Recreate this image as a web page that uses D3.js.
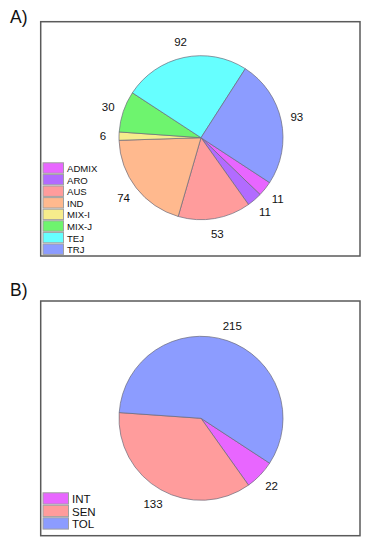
<!DOCTYPE html>
<html><head><meta charset="utf-8">
<script src="https://cdn.jsdelivr.net/npm/d3@7"></script>
<style>body{margin:0;background:#fff;} svg{display:block;font-family:Arial,"Liberation Sans",sans-serif;}</style>
</head><body>
<svg id="c" width="370" height="550"></svg>
<script>
// Panel A data
const catsA = ["ADMIX","ARO","AUS","IND","MIX-I","MIX-J","TEJ","TRJ"];
const valsA = [11,11,53,74,6,30,92,93];
const colorsA = ["#e866ff","#b26bff","#ff9c9c","#ffb98e","#f6ec8c","#6ef46e","#66ffff","#8c9cff"];
// Panel B data
const catsB = ["INT","SEN","TOL"];
const valsB = [22,133,215];
const colorsB = ["#e866ff","#ff9c9c","#8c9cff"];

const svg = d3.select("#c");
const startDeg = 123.2;

function panel(opts){
  const g = svg.append("g");
  g.append("text").attr("x",10).attr("y",opts.labelY).attr("font-size",17.5).attr("fill","#111").text(opts.label);
  g.append("rect").attr("x",opts.box[0]).attr("y",opts.box[1]).attr("width",opts.box[2]-opts.box[0]).attr("height",opts.box[3]-opts.box[1])
    .attr("fill","#fff").attr("stroke","#5a5a5a").attr("stroke-width",1.5);
  const r = 82;
  const pie = d3.pie().sort(null).value(d=>d.v)
    .startAngle(startDeg*Math.PI/180).endAngle(startDeg*Math.PI/180+2*Math.PI);
  const data = opts.cats.map((c,i)=>({c, v:opts.vals[i], col:opts.colors[i]}));
  const arcs = pie(data);
  const arc = d3.arc().innerRadius(0).outerRadius(r);
  const labArc = d3.arc().innerRadius(98).outerRadius(98);
  const pg = g.append("g").attr("transform",`translate(${opts.cx},${opts.cy})`);
  pg.selectAll("path").data(arcs).join("path").attr("d",arc)
    .attr("fill",d=>d.data.col).attr("stroke","#6a6a7a").attr("stroke-width",0.7);
  pg.selectAll("text").data(arcs).join("text")
    .attr("transform",d=>`translate(${labArc.centroid(d)})`)
    .attr("text-anchor","middle").attr("dy","0.36em").attr("font-size",11.5).attr("fill","#111")
    .text(d=>d.data.v);
  // legend
  const lg = g.append("g");
  const rows = lg.selectAll("g").data(data).join("g")
    .attr("transform",(d,i)=>`translate(${opts.legX},${opts.legY + i*opts.step})`);
  rows.append("rect").attr("x",0).attr("y",0).attr("width",opts.sw).attr("height",opts.step-1.2)
    .attr("fill",d=>d.col).attr("stroke","#a0a0a0").attr("stroke-width",1);
  rows.append("text").attr("x",opts.sw+3.5).attr("y",opts.step/2).attr("dy","0.36em")
    .attr("font-size",opts.fs).attr("fill","#111").text(d=>d.c);
}

panel({label:"A)", labelY:23, box:[40.7,21.7,360,256], cx:201, cy:137.7,
  cats:catsA, vals:valsA, colors:colorsA, legX:43, legY:162.8, step:11.6, sw:20.5, fs:9.6});
panel({label:"B)", labelY:296, box:[40.7,301,360,535.7], cx:201, cy:418.3,
  cats:catsB, vals:valsB, colors:colorsB, legX:43, legY:492.8, step:12.5, sw:25.5, fs:11.5});
</script>
</body></html>
